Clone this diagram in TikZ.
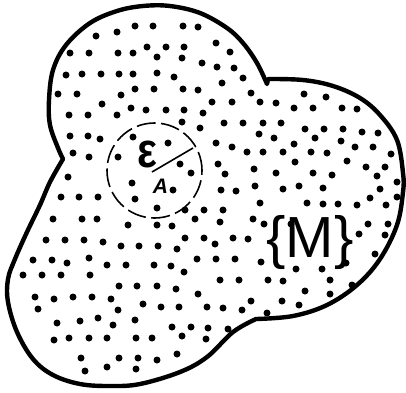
\documentclass[tikz,border=0pt]{standalone}
\usepackage{fontspec}
\setmainfont{Liberation Sans}
\begin{document}
\begin{tikzpicture}[x=1pt,y=-1pt,
  outline/.style={line width=4.4pt,line join=round,draw=black},
  dotf/.style={fill=black},
  dcirc/.style={line width=1.6pt,dash pattern=on 19pt off 5.5pt},
  radline/.style={line width=1.6pt}]
\useasboundingbox (0,0) rectangle (406,392);
% outline
\draw[outline]
  plot[smooth,tension=0.6] coordinates {(63,159) (58,148) (50,125) (49,100) (53,70) (66,45) (90,23) (117,11) (143,6) (170,6) (200,13) (227,28) (243,43) (257,63) (267,84)}
  -- plot[smooth,tension=0.6] coordinates {(268,79) (303,80) (333,86) (360,98) (380,115) (397,140) (403,173) (403,192) (397,225) (380,259) (357,285) (327,305) (293,316) (256,319)}
  -- plot[smooth,tension=0.6] coordinates {(256,319) (233,332) (207,357) (180,372) (140,384) (110,386) (80,384) (53,375) (33,359) (17,332) (8,302) (8,279) (15,259) (27,232) (40,205) (50,182) (63,159)}
  -- cycle;
% dots
\foreach \p in {(135,26),(153,26),(183,26),(198,27),
(96,36),(117,32),
(147,47),(166,47),(184,47),
(70,53),(89,53),(118,53),(133,53),(157,57),(182,58),(202,63),
(66,75),(82,74),(101,74),(119,74),(133,74),(157,73),(174,77),
(135,89),(154,89),(183,89),(198,90),
(58,94),(77,94),(121,95),
(102,104),
(131,108),(146,110),(166,110),(184,110),(203,113),
(69,115),(88,115),(117,115),
(182,122),
(200,128),
(70,136),(88,136),(100,139),(133,137),
(168,143),
(73,153),(89,157),(118,157),
(180,164),
(191,173),
(68,177),
(132,183),(173,190),
(61,197),(79,197),(98,197),
(216,43),(230,52),
(217,67),(234,68),
(243,78),(222,83),
(251,93),(304,94),(326,97),
(212,102),(232,102),(260,102),(276,103),(294,108),(313,108),(342,108),(357,109),
(224,123),(243,123),(263,123),(281,123),
(305,129),(324,129),(343,129),(362,132),(378,133),
(259,134),(274,138),(315,138),(341,141),
(216,143),(232,147),(294,144),(355,147),(373,147),
(247,152),(263,152),(283,152),(311,152),(327,153),(391,154),
(218,164),(295,162),(347,161),(366,167),(385,167),
(225,174),(254,169),(276,173),(313,173),(332,175),(377,176),
(397,182),
(221,190),(236,191),(255,186),(283,189),(299,186),(323,188),(380,189),
(397,197),(370,198),
(135,199),(157,208),(185,210),(204,210),
(53,219),(82,219),(97,219),(195,219),
(128,225),(157,225),(172,226),
(46,240),(65,240),(84,240),(103,242),
(121,246),(139,246),(158,246),(177,249),
(185,238),(204,238),
(33,260),(52,260),(67,263),(89,258),
(107,265),(126,265),(154,265),(171,266),
(197,259),(184,272),
(23,275),(42,275),(61,275),(90,275),
(119,286),(137,286),(157,286),(176,289),
(198,294),
(35,297),(54,299),(73,297),(92,297),(111,299),
(143,304),(161,307),(179,307),(207,307),
(38,309),(118,310),
(57,323),(80,321),(98,318),(113,325),(135,320),
(172,327),(191,327),(208,328),
(54,340),(69,338),(89,338),(107,338),(136,338),(152,338),
(182,336),(206,339),
(81,358),(119,358),(138,358),(157,360),(177,354),
(85,371),(107,367),(136,369),
(260,203),(307,203),(323,204),(338,204),
(357,205),(386,205),
(223,210),
(253,219),(264,224),(291,224),(220,222),
(368,224),(388,224),
(359,234),(385,235),
(215,244),(233,238),(248,239),
(216,259),(235,259),(261,262),
(375,254),(346,263),
(296,269),(322,269),
(220,280),(239,280),(268,280),(283,281),(330,280),
(352,285),
(305,291),(330,294),
(251,301),(282,301),
(223,308),(242,310),
(299,305),
(267,313),
(228,329)}
  \fill[dotf] \p circle (3.5pt);
% epsilon neighbourhood
\coordinate (c) at (154.5,170.5);
\coordinate (r0) at (152,172);
\coordinate (r1) at (193,148);
\draw[dcirc] (c) circle (47.5pt);
\node[inner sep=0pt,anchor=center,yscale=1.12,xscale=0.95] (eps) at (147.5,154) {\fontsize{44}{44}\selectfont\bfseries ε};
\node[inner sep=0pt,anchor=base] (A) at (160.5,193) {\fontsize{21}{21}\selectfont\bfseries\itshape A};
\node[inner sep=0pt,anchor=base] (M) at (310,257) {\fontsize{58}{58}\selectfont\{M\}};
\draw[radline] (r0) -- (r1);
\end{tikzpicture}
\end{document}
